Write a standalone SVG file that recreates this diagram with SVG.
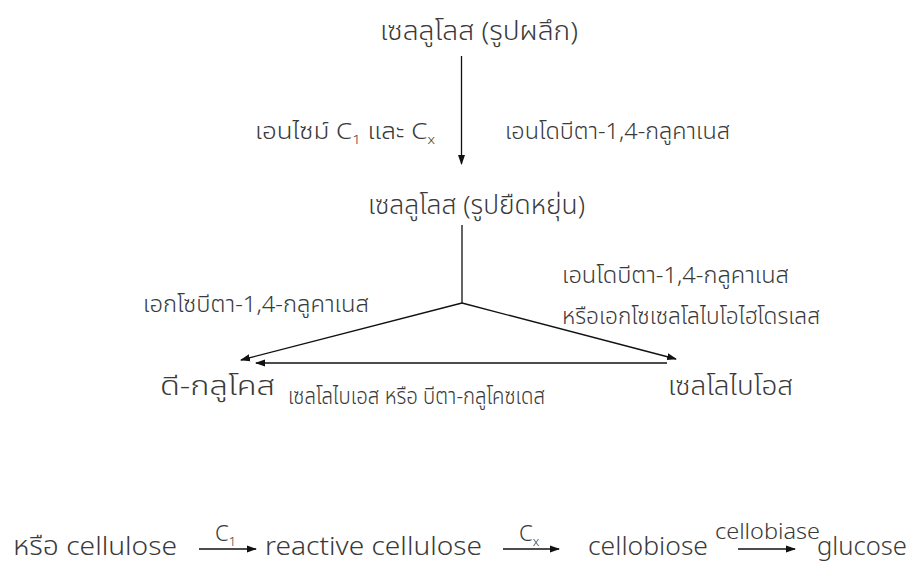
<svg xmlns="http://www.w3.org/2000/svg" width="909" height="564" viewBox="0 0 909 564">
  <defs>
    <style>
      text { font-family: "Noto Sans Thai", "Noto Sans", "DejaVu Sans", sans-serif; fill: #3a3a3a; font-weight: 300; }
      .node { font-size: 26px; text-anchor: middle; }
      .lbl { font-size: 22.5px; }
      .eq { font-size: 26px; }
      .sm { font-size: 22px; }
      .line { stroke: #111; stroke-width: 1.3; fill: none; }
    </style>
    <marker id="ah" markerWidth="10" markerHeight="8" refX="9" refY="4" orient="auto" markerUnits="userSpaceOnUse">
      <path d="M0,0.5 L10,4 L0,7.5 Z" fill="#111"/>
    </marker>
  </defs>
  <rect width="909" height="564" fill="#fff"/>

  <!-- main pathway nodes -->
  <g id="crystalline"><text class="node" x="479" y="40" textLength="198" lengthAdjust="spacingAndGlyphs">เซลลูโลส (รูปผลึก)</text></g>
  <g id="amorphous"><text class="node" x="476.5" y="214" textLength="217" lengthAdjust="spacingAndGlyphs">เซลลูโลส (รูปยืดหยุ่น)</text></g>
  <g id="d-glucose"><text class="node" x="217.5" y="395" textLength="115" lengthAdjust="spacingAndGlyphs">ดี-กลูโคส</text></g>
  <g id="cellobiose"><text class="node" x="730.5" y="395" textLength="125" lengthAdjust="spacingAndGlyphs">เซลโลไบโอส</text></g>

  <!-- connectors -->
  <g id="connectors">
    <line class="line" x1="461.5" y1="56" x2="461.5" y2="164" marker-end="url(#ah)"/>
    <polyline class="line" points="462,225 462,303"/>
    <line class="line" x1="462" y1="303" x2="241" y2="360" marker-end="url(#ah)"/>
    <line class="line" x1="462" y1="303" x2="676" y2="359" marker-end="url(#ah)"/>
    <line class="line" x1="667" y1="363" x2="256" y2="363" marker-end="url(#ah)"/>
  </g>

  <!-- enzyme labels -->
  <g id="labels">
    <text class="lbl" x="255" y="139" textLength="180" lengthAdjust="spacingAndGlyphs">เอนไซม์ C<tspan font-size="13" dy="5">1</tspan><tspan dy="-5"> และ C</tspan><tspan font-size="13" dy="5">x</tspan></text>
    <text class="lbl" x="505" y="139" textLength="225" lengthAdjust="spacingAndGlyphs">เอนโดบีตา-1,4-กลูคาเนส</text>
    <text class="lbl" x="143" y="312" textLength="226" lengthAdjust="spacingAndGlyphs">เอกโซบีตา-1,4-กลูคาเนส</text>
    <text class="lbl" x="562" y="283" textLength="227" lengthAdjust="spacingAndGlyphs">เอนโดบีตา-1,4-กลูคาเนส</text>
    <text class="lbl" x="562" y="324" textLength="258" lengthAdjust="spacingAndGlyphs">หรือเอกโซเซลโลไบโอไฮโดรเลส</text>
    <text class="lbl" x="288" y="404" textLength="257" lengthAdjust="spacingAndGlyphs">เซลโลไบเอส หรือ บีตา-กลูโคซเดส</text>
  </g>

  <!-- summary equation -->
  <g id="equation">
    <text class="eq" x="13" y="555" textLength="164" lengthAdjust="spacingAndGlyphs">หรือ cellulose</text>
    <text class="sm" x="215" y="541">C<tspan font-size="13" dy="5">1</tspan></text>
    <line class="line" x1="199" y1="549" x2="256" y2="549" marker-end="url(#ah)"/>
    <text class="eq" x="265" y="555" textLength="217" lengthAdjust="spacingAndGlyphs">reactive cellulose</text>
    <text class="sm" x="519" y="541">C<tspan font-size="13" dy="5">x</tspan></text>
    <line class="line" x1="503" y1="549" x2="559" y2="549" marker-end="url(#ah)"/>
    <text class="eq" x="588" y="555" textLength="120" lengthAdjust="spacingAndGlyphs">cellobiose</text>
    <text class="sm" x="715" y="539" textLength="105" lengthAdjust="spacingAndGlyphs">cellobiase</text>
    <line class="line" x1="738" y1="549" x2="795" y2="549" marker-end="url(#ah)"/>
    <text class="eq" x="817" y="555" textLength="90" lengthAdjust="spacingAndGlyphs">glucose</text>
  </g>
</svg>
